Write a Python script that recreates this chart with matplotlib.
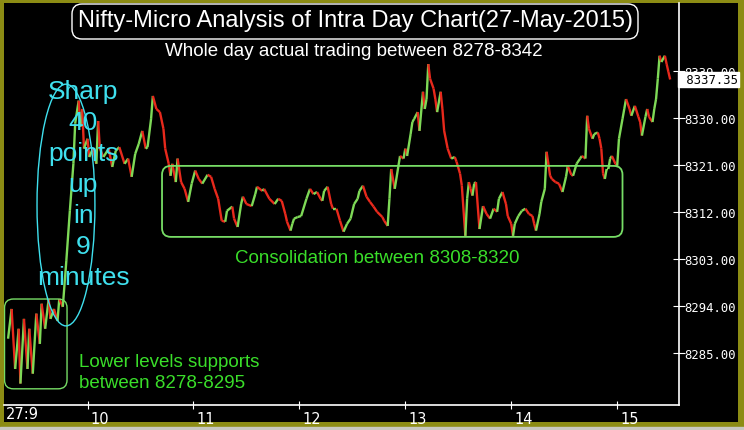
import numpy as np
import matplotlib
matplotlib.use('Agg')
import matplotlib.pyplot as plt
import matplotlib.transforms as mtransforms
from matplotlib.collections import LineCollection
from matplotlib.patches import FancyBboxPatch, Ellipse, Rectangle

# minutes after 09:15 and traded price
minutes = [0, 2, 4, 6, 7, 9, 11, 12, 14, 16, 18, 19, 21, 23, 24, 26, 28, 29, 31, 33,
           35, 37, 38, 40, 41, 42, 43, 45, 46, 48, 50, 51, 52, 54, 57, 59, 61, 63, 66, 68,
           70, 72, 74, 76, 78, 79, 81, 82, 84, 86, 88, 89, 91, 92, 93, 95, 96, 98, 100, 102,
           104, 106, 108, 110, 113, 115, 117, 119, 121, 123, 124, 127, 128, 130, 132, 133, 135, 138, 140, 141,
           144, 145, 148, 151, 153, 155, 157, 158, 160, 161, 162, 164, 166, 169, 171, 173, 175, 177, 178, 179,
           181, 183, 184, 186, 188, 190, 192, 194, 196, 198, 199, 201, 203, 205, 207, 209, 212, 213, 215, 216,
           217, 219, 221, 222, 224, 225, 226, 228, 229, 230, 232, 233, 235, 236, 237, 238, 239, 241, 242, 243,
           245, 246, 247, 249, 251, 253, 254, 256, 257, 259, 260, 261, 262, 263, 264, 265, 267, 269, 271, 273,
           275, 277, 278, 280, 282, 283, 285, 286, 287, 289, 291, 293, 295, 297, 298, 299, 301, 302, 304, 305,
           307, 308, 310, 312, 314, 316, 317, 319, 320, 322, 324, 325, 327, 328, 329, 331, 332, 334, 335, 336,
           337, 338, 339, 340, 341, 342, 344, 345, 346, 348, 349, 350, 352, 353, 355, 357, 358, 359, 361, 362,
           363, 365, 366, 367, 368, 369, 370, 372, 373, 374, 375]
prices = [8287.7, 8293.4, 8281.9, 8289.6, 8279.1, 8291.5, 8281.9, 8289.6, 8281.0, 8292.5,
          8286.7, 8294.4, 8289.6, 8295.3, 8291.5, 8293.4, 8291.1, 8295.3, 8293.8, 8302.6,
          8312.2, 8321.2, 8328.9, 8333.3, 8328.3, 8331.7, 8324.1, 8326.0, 8322.5, 8324.1,
          8321.2, 8329.4, 8324.1, 8322.5, 8324.1, 8320.6, 8323.7, 8324.4, 8321.2, 8322.2,
          8318.7, 8323.1, 8325.0, 8327.5, 8324.1, 8324.4, 8329.8, 8334.2, 8331.7, 8331.1,
          8327.9, 8324.1, 8321.2, 8318.9, 8321.2, 8317.7, 8322.2, 8317.7, 8316.4, 8313.9,
          8317.4, 8319.9, 8318.3, 8317.4, 8319.1, 8318.7, 8316.4, 8314.5, 8310.3, 8310.1,
          8312.2, 8313.0, 8310.7, 8309.1, 8313.5, 8314.9, 8313.5, 8313.1, 8315.4, 8316.8,
          8316.0, 8316.4, 8314.5, 8313.5, 8314.5, 8314.1, 8311.6, 8310.1, 8308.4, 8309.7,
          8310.7, 8311.0, 8311.2, 8314.5, 8316.4, 8315.4, 8315.8, 8314.5, 8314.1, 8316.0,
          8316.8, 8313.5, 8312.6, 8312.6, 8310.3, 8308.2, 8309.7, 8310.7, 8313.5, 8314.5,
          8316.0, 8317.0, 8314.9, 8313.9, 8313.0, 8312.0, 8311.0, 8310.3, 8309.3, 8314.5,
          8320.2, 8316.4, 8320.6, 8322.7, 8322.2, 8324.1, 8322.7, 8326.9, 8329.2, 8329.8,
          8331.1, 8327.5, 8335.0, 8331.7, 8333.6, 8340.3, 8337.5, 8335.6, 8333.6, 8331.1,
          8335.0, 8331.7, 8327.5, 8324.1, 8322.2, 8322.5, 8321.6, 8319.3, 8317.0, 8307.4,
          8314.5, 8317.7, 8316.4, 8315.1, 8317.4, 8317.7, 8308.7, 8313.1, 8311.6, 8310.7,
          8312.6, 8312.0, 8314.5, 8315.8, 8313.5, 8311.2, 8309.7, 8307.4, 8309.7, 8311.2,
          8312.2, 8312.6, 8311.6, 8311.2, 8309.7, 8308.4, 8311.6, 8313.9, 8316.4, 8323.5,
          8318.9, 8318.3, 8317.7, 8317.4, 8315.8, 8318.7, 8320.8, 8319.1, 8318.9, 8321.2,
          8322.2, 8322.7, 8322.2, 8330.4, 8327.9, 8326.0, 8326.9, 8327.2, 8326.0, 8324.1,
          8319.3, 8318.3, 8320.2, 8320.2, 8322.2, 8322.7, 8321.2, 8320.8, 8326.0, 8329.8,
          8331.7, 8333.6, 8331.7, 8330.4, 8332.3, 8330.2, 8329.2, 8326.6, 8330.2, 8331.7,
          8330.2, 8329.2, 8331.7, 8333.6, 8337.5, 8341.9, 8340.7, 8341.9, 8340.3, 8338.8,
          8337.35]

hour_ticks = [10, 11, 12, 13, 14, 15]
price_ticks = [8285, 8294, 8303, 8312, 8321, 8330, 8339]
last_price = 8337.35

title = "Nifty-Micro Analysis of Intra Day Chart(27-May-2015)"
subtitle = "Whole day actual trading between 8278-8342"
sharp_note = "Sharp\n40\npoints\nup\nin\n9\nminutes"
low_note = "Lower levels supports\nbetween 8278-8295"
cons_note = "Consolidation between 8308-8320"

olive = '#8c8c14'
cyan = '#3fe0ee'
green = '#3ade2a'
box_green = '#77dd66'
up_col = '#7ed957'
down_col = '#e8291c'
narrow = ['Liberation Sans Narrow', 'Liberation Sans', 'DejaVu Sans']

W, H = 744, 431
fig = plt.figure(figsize=(W / 100, H / 100), dpi=100, facecolor=olive)
fig.patches.append(Rectangle((0, 0), 1, 3 / H, transform=fig.transFigure,
                             color='#c8c8c0', zorder=0))
bg = fig.add_axes([4 / W, 8 / H, 734 / W, 419 / H], facecolor='black')
bg.set_xticks([]); bg.set_yticks([])
for s in bg.spines.values():
    s.set_visible(False)

ax = fig.add_axes([4 / W, 25 / H, 675 / W, 402 / H], facecolor='black')
ax.set_xlim(-2.3, 380)
ax.set_ylim(8275.0, 8352.0)
for s in ['top', 'left']:
    ax.spines[s].set_visible(False)
for s in ['right', 'bottom']:
    ax.spines[s].set_color('white')
    ax.spines[s].set_linewidth(1.2)

# price line, green when rising, red when falling
t = np.array(minutes, dtype=float)
p = np.array(prices)
segs = np.stack([np.column_stack([t[:-1], p[:-1]]), np.column_stack([t[1:], p[1:]])], axis=1)
cols = [up_col if b >= a else down_col for a, b in zip(p[:-1], p[1:])]
ax.add_collection(LineCollection(segs, colors=cols, linewidths=1.7, zorder=3))

ax.yaxis.tick_right()
ax.set_yticks(price_ticks)
ax.set_yticklabels([f"{v:.2f}" for v in price_ticks], family='DejaVu Sans Mono')
ax.tick_params(axis='y', direction='inout', length=8, color='white', labelcolor='white',
               labelsize=8.8, pad=0)
ax.set_xticks([(h - 9) * 60 - 15 for h in hour_ticks])
ax.set_xticklabels([str(h) for h in hour_ticks])
ax.tick_params(axis='x', direction='inout', length=6, color='white', labelcolor='white',
               labelsize=10.5, pad=1)
off = mtransforms.ScaledTranslation(3 / 100, 0, fig.dpi_scale_trans)
for lbl in ax.get_xticklabels():
    lbl.set_ha('left')
    lbl.set_transform(lbl.get_transform() + off)
fig.text(6 / W, 1 - 415 / H, "27:9", color='white', fontsize=10.5, va='center')

# last traded price box
ax.text(1.0, last_price, f" {last_price:.2f}", transform=ax.get_yaxis_transform(),
        ha='left', va='center', color='black', fontsize=8.8, family='DejaVu Sans Mono',
        bbox=dict(boxstyle='square,pad=0.1', fc='white', ec='white'), clip_on=False, zorder=10)

# title box and subtitle
fig.patches.append(FancyBboxPatch((0.72, 3.91), 5.66, 0.35, boxstyle='round,pad=0,rounding_size=0.1',
                                  transform=fig.dpi_scale_trans, fc='black', ec='white', lw=1.0, zorder=5))
fig.text(355 / W, 1 - 21 / H, title, ha='center', va='center', color='white', fontsize=17,
         family=narrow, zorder=6)
fig.text(354 / W, 1 - 52 / H, subtitle, ha='center', va='center', color='white', fontsize=13.5,
         family=narrow, zorder=6)

# annotations
asp = 1.767 / 5.222
ax.add_patch(FancyBboxPatch((87.2, 8307.2), 260.8, 13.6, boxstyle='round,pad=0,rounding_size=5',
                            mutation_aspect=asp, fc='none', ec=box_green, lw=1.3, zorder=4))
ax.add_patch(FancyBboxPatch((-2.0, 8278.1), 35.4, 17.2, boxstyle='round,pad=0,rounding_size=5',
                            mutation_aspect=asp, fc='none', ec=box_green, lw=1.0, zorder=4))
ax.add_patch(Ellipse((32.8, 8313.3), 32.8, 46.3, fc='none', ec=cyan, lw=1.0, zorder=4))
ax.text(42.5, 8317.4, sharp_note, ha='center', va='center', color=cyan, fontsize=19,
        linespacing=1.37, family='Liberation Sans', zorder=6)
ax.text(40.2, 8281.3, low_note, ha='left', va='center', color=green, fontsize=13.5,
        linespacing=1.25, family='Liberation Sans', zorder=6)
ax.text(208.9, 8303.2, cons_note, ha='center', va='center', color=green, fontsize=13.5,
        family='Liberation Sans', zorder=6)

fig.savefig('out.png', dpi=100, facecolor=olive)
